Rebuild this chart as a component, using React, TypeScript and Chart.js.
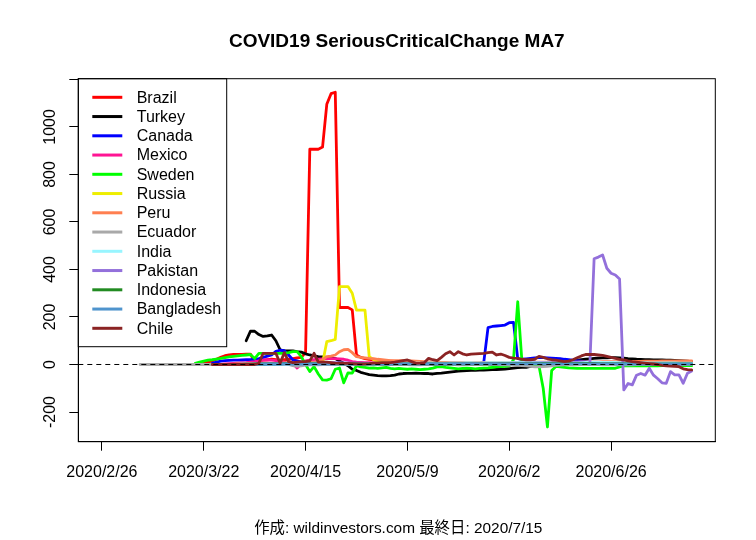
import { useEffect, useRef } from "react";
import { Chart, registerables } from "chart.js";

Chart.register(...registerables);

// ---------- data ----------
const titleText = "COVID19 SeriousCriticalChange MA7";
const footerText = "作成: wildinvestors.com 最終日: 2020/7/15";

const dateTickIndex = [0, 24, 48, 72, 96, 120];
const dateTickLabels = ["2020/2/26", "2020/3/22", "2020/4/15", "2020/5/9", "2020/6/2", "2020/6/26"];
const yTickValues = [-200, 0, 200, 400, 600, 800, 1000, 1200];
const yTickLabels = ["-200", "0", "200", "400", "600", "800", "1000", ""];

const countries = [
  "Brazil", "Turkey", "Canada", "Mexico", "Sweden", "Russia", "Peru",
  "Ecuador", "India", "Pakistan", "Indonesia", "Bangladesh", "Chile",
];
const colors = [
  "#FF0000", "#000000", "#0000FF", "#FF1493", "#00FF00", "#EEEE00", "#FF7F50",
  "#A9A9A9", "#98F5FF", "#9370DB", "#228B22", "#4F94CD", "#8B2323",
];

// first day index (0 = 2020/2/26) of each series
const seriesStart = [22, 34, 26, 28, 22, 30, 30, 9, 30, 30, 32, 35, 26];

const brazil = [
  0, 2, 5, 10, 15, 22, 30, 37,
  40, 42, 43, 43, 44, 44, 12, 15, 18, 20,
  22, 20, 18, 20, 22, 25, 28, 30, 50, 906,
  906, 906, 915, 1095, 1140, 1146, 240, 240, 240, 230,
  40, 30, 25, 22, 20, 18, 17, 15, 14, 13,
  12, 12, 11, 10, 10, 9, 9, 8, 8, 8,
  8, 7, 7, 7, 6, 6, 6, 6, 5, 5,
  5, 5, 5, 4, 4, 4, 4, 4, 3, 3,
  3, 3, 3, 3, 3, 3, 2, 2, 2, 2,
  2, 2, 2, 2, 2, 2, 2, 2, 2, 2,
  2, 2, 1, 1, 1, 1, 1, 1, 1, 1,
  1, 1, 1, 1, 1, 1, 0, 0, 0, 0,
];
const turkey = [
  100, 140, 140, 126, 118, 120,
  124, 100, 62, 57, 57, 57, 54, 52, 45, 40,
  36, 33, 32, 30, 28, 25, 15, 5, -5, -20,
  -25, -33, -38, -43, -45, -47, -48, -48, -47, -45,
  -40, -38, -37, -37, -36, -37, -38, -38, -40, -37,
  -36, -34, -32, -30, -28, -27, -26, -25, -25, -24,
  -24, -23, -22, -21, -20, -19, -17, -15, -13, -12,
  -12, -8, -5, -2, 0, 2, 3, 5, 8, 10,
  12, 15, 18, 20, 22, 24, 26, 27, 28, 28,
  29, 29, 28, 27, 25, 24, 22, 21, 20, 20,
  19, 19, 19, 18, 18, 17, 16, 15, 14, 12,
];
const canada = [
  5, 10, 14, 16,
  17, 18, 18, 19, 20, 20, 22, 25, 30, 35,
  40, 55, 60, 58, 40, 20, 15, 10, 8, 8,
  7, 7, 6, 6, 6, 5, 5, 5, 5, 4,
  4, 4, 3, 3, 3, 2, 2, 2, 2, 1,
  1, 1, 1, 0, 0, 0, 0, 1, 1, 1,
  1, 1, 2, 2, 2, 2, 3, 3, 3, 5,
  10, 155, 160, 162, 164, 166, 176, 177, 25, 22,
  24, 26, 28, 29, 29, 28, 27, 26, 25, 22,
  20, 18, 16, 14, 12, 10, 9, 8, 8, 7,
  7, 6, 6, 5, 5, 5, 4, 4, 4, 3,
  3, 3, 3, 2, 2, 2, 2, 1, 1, 1,
];
const mexico = [
  0, 2,
  4, 5, 6, 7, 8, 10, 12, 15, 18, 20,
  18, 16, 14, 10, 5, 5, -15, 5, 15, 18,
  20, 22, 24, 25, 25, 25, 24, 22, 18, 12,
  10, 9, 8, 8, 7, 7, 6, 6, 6, 5,
  5, 5, 5, 5, 4, 4, 4, 4, 4, 4,
  4, 4, 4, 3, 3, 3, 3, 3, 3, 3,
  3, 3, 3, 3, 3, 4, 4, 4, 5, 5,
  5, 6, 6, 6, 6, 5, 5, 5, 4, 4,
  4, 4, 4, 4, 4, 4, 4, 3, 3, 3,
  3, 3, 3, 3, 3, 3, 3, 2, 2, 2,
  2, 2, 2, 2, 2, 2, 2, 2, 2, 2,
];
const sweden = [
  5, 10, 14, 18, 20, 23, 26, 29,
  32, 34, 36, 38, 40, 42, 25, 47, 47, 47,
  47, 47, 47, 47, 50, 54, 54, 33, 0, -30,
  -9, -40, -65, -66, -60, -20, -15, -77, -35, -36,
  -5, -10, -12, -15, -14, -16, -14, -12, -16, -18,
  -16, -18, -20, -18, -20, -22, -20, -18, -15, -10,
  -9, -12, -14, -16, -18, -16, -15, -16, -18, -16,
  -15, -14, -12, -10, -9, -8, -6, 20, 264, 10,
  -2, -4, -5, -5, -100, -263, -25, -8, -10, -12,
  -14, -15, -16, -16, -16, -16, -16, -16, -16, -16,
  -16, -16, -10, -6, -6, -6, -6, -6, -6, -6,
  -6, -6, -5, -5, -5, -5, -5, -5, -5, -5,
];
const russia = [
  0, 0, 1, 1, 2, 2, 3, 3, 4, 4,
  5, 5, 5, 6, 6, 6, 6, 6, 5, 5,
  5, 5, 5, 96, 100, 106, 328, 328, 328, 300,
  229, 229, 229, 33, 20, 15, 12, 10, 9, 8,
  8, 7, 7, 6, 6, 6, 5, 5, 5, 5,
  5, 5, 4, 4, 4, 4, 4, 4, 4, 4,
  4, 4, 4, 4, 3, 3, 3, 3, 3, 3,
  3, 3, 3, 3, 3, 3, 3, 3, 3, 3,
  3, 3, 2, 2, 2, 2, 2, 2, 2, 2,
  2, 2, 2, 2, 2, 2, 2, 2, 2, 2,
  2, 2, 2, 2, 2, 2, 2, 2, 2, 2,
];
const peru = [
  0, 1, 2, 2, 3, 3, 4, 4, 5, 5,
  4, 4, 5, 5, 6, 6, 7, 8, 8, 9,
  10, 12, 20, 33, 35, 40, 54, 62, 64, 50,
  33, 30, 28, 26, 25, 22, 20, 18, 16, 16,
  16, 16, 15, 15, 14, 13, 12, 11, 10, 10,
  9, 9, 8, 8, 8, 8, 8, 8, 8, 8,
  8, 8, 8, 8, 8, 8, 8, 8, 9, 9,
  10, 10, 10, 10, 10, 10, 10, 10, 10, 10,
  10, 10, 10, 11, 11, 11, 11, 11, 12, 12,
  12, 12, 12, 12, 12, 13, 13, 13, 14, 14,
  14, 14, 15, 15, 15, 15, 15, 15, 15, 15,
];
const ecuador = [
  0, 0, 0, 0, 0, 0, 0, 0, 0, 0, 0,
  0, 0, 0, 0, 0, 0, 0, 0, 0, 0,
  0, 0, 0, 0, 0, 0, 2, 3, 4, 5,
  5, 4, 3, 2, 0, -5, -8, -6, -3, -2,
  -2, -1, 0, 0, 0, 1, 1, 0, 0, 0,
  0, 0, -1, -1, 0, 0, 0, 1, 1, 0,
  0, 0, 0, -1, -1, -1, 0, 0, 0, 0,
  0, 0, 0, 0, -1, -1, 0, 0, 0, 0,
  0, 0, 0, 0, -1, -2, -3, -3, -4, -5,
  -6, -8, -10, -10, -9, -8, -6, -4, -3, -2,
  -2, -1, -1, 0, 0, 0, 0, 0, -1, -1,
  -1, -2, -2, -2, -1, -1, 0, 0, 0, 0,
  0, 0, 0, 0, -1, -1, -1, 0, 0, 0,
];
const india = [
  0, 0, 0, 1, 1, 1, 1, 2, 2, 2,
  2, 3, 3, 3, 3, 4, 4, 4, 4, 5,
  5, 5, 5, 6, 6, 5, 5, 5, 5, 5,
  4, 4, 5, 5, 5, 5, 6, 6, 6, 6,
  5, 5, 6, 6, 6, 6, 6, 7, 7, 6,
  6, 6, 7, 7, 7, 7, 8, 8, 7, 7,
  7, 8, 8, 8, 8, 8, 8, 8, 9, 9,
  9, 9, 9, 9, 8, 8, 8, 8, 9, 9,
  9, 9, 9, 9, 9, 10, 10, 10, 9, 9,
  9, 9, 8, 8, 8, 8, 8, 8, 8, 7,
  7, 7, 7, 7, 7, 7, 6, 6, 6, 6,
];
const pakistan = [
  0, 0, 0, 1, 1, 1, 2, 2, 3, 3,
  4, 4, 5, 5, 5, 6, 6, 5, 5, 5,
  6, 6, 7, 7, 8, 8, 8, 7, 7, 6,
  6, 6, 5, 5, 5, 5, 4, 4, 4, 4,
  4, 3, 3, 3, 3, 3, 3, 3, 3, 3,
  3, 3, 3, 3, 4, 4, 4, 4, 4, 4,
  4, 5, 5, 5, 5, 5, 5, 6, 6, 6,
  6, 6, 7, 7, 7, 7, 7, 8, 8, 8,
  8, 8, 8, 7, 5, 2, 445, 452, 461, 405,
  384, 377, 360, -107, -80, -86, -45, -38, -45, -16,
  -45, -60, -77, -79, -30, -44, -44, -79, -37, -27,
];
const indonesia = [
  0, 0, 1, 1, 2, 2, 2, 3,
  3, 3, 3, 4, 4, 4, 4, 4, 4, 4,
  4, 4, 4, 4, 4, 3, 3, 3, 3, 3,
  3, 3, 3, 3, 3, 3, 3, 3, 3, 3,
  3, 3, 3, 3, 3, 3, 3, 3, 2, 2,
  2, 2, 2, 3, 3, 3, 3, 3, 3, 3,
  3, 3, 3, 3, 4, 4, 4, 4, 4, 4,
  4, 4, 4, 4, 5, 5, 5, 5, 5, 5,
  5, 5, 5, 5, 5, 5, 5, 4, 4, 4,
  4, 4, 4, 4, 4, 4, 4, 3, 3, 3,
  3, 3, 3, 3, 3, 3, 3, 3, 3, 3,
];
const bangladesh = [
  0, 0, 1, 1, 1,
  1, 1, 1, 2, 2, 2, 2, 2, 2, 2,
  2, 2, 2, 2, 2, 2, 2, 2, 2, 2,
  2, 2, 2, 2, 2, 2, 2, 2, 2, 3,
  3, 3, 3, 3, 3, 3, 3, 3, 3, 3,
  3, 3, 3, 3, 3, 3, 3, 3, 3, 3,
  3, 3, 3, 3, 3, 3, 3, 3, 3, 3,
  3, 3, 3, 3, 3, 3, 3, 3, 3, 3,
  3, 3, 3, 3, 3, 3, 3, 3, 3, 3,
  3, 3, 2, 2, 2, 2, 2, 2, 2, 2,
  2, 2, 2, 2, 2, 2, 2, 2, 2, 2,
];
const chile = [
  0, 0, 0, 0,
  0, 0, 0, 0, 0, 0, 0, 5, 47, 47,
  47, 47, 5, 50, 12, 8, 10, 12, 12, 15,
  47, 10, 10, 10, 8, 6, 5, 5, 5, 4,
  3, 2, 3, 4, 6, 7, 8, 8, 8, 10,
  13, 16, 19, 12, 5, 6, 8, 26, 20, 16,
  30, 45, 54, 40, 54, 45, 40, 44, 45, 46,
  47, 50, 52, 40, 44, 38, 30, 27, 26, 22,
  20, 20, 22, 34, 30, 24, 20, 18, 15, 12,
  14, 20, 28, 36, 42, 43, 42, 40, 38, 34,
  30, 26, 22, 19, 15, 12, 10, 8, 6, 4,
  2, 0, -4, -6, -7, -8, -9, -18, -22, -23,
];

const seriesValues = [
  brazil, turkey, canada, mexico, sweden, russia, peru,
  ecuador, india, pakistan, indonesia, bangladesh, chile,
];

// ---------- layout ----------
const W = 756;
const H = 540;
const AREA = { left: 78.3, top: 78.7, right: 715.3, bottom: 441.7 };
const FONT = '"Liberation Sans", Arial, "Noto Sans CJK JP", sans-serif';

const decorPlugin = {
  id: "decor",
  afterDatasetsDraw(chart: any) {
    const { ctx, chartArea, scales } = chart;
    const y0 = scales.y.getPixelForValue(0);
    ctx.save();
    ctx.beginPath();
    ctx.rect(chartArea.left, chartArea.top, chartArea.right - chartArea.left, chartArea.bottom - chartArea.top);
    ctx.clip();
    ctx.strokeStyle = "#000";
    ctx.lineWidth = 1;
    ctx.setLineDash([5, 4]);
    ctx.beginPath();
    ctx.moveTo(chartArea.left, y0);
    ctx.lineTo(chartArea.right, y0);
    ctx.stroke();
    ctx.restore();

    // legend
    ctx.save();
    const lx = chartArea.left;
    const ly = chartArea.top;
    const lw = 148.4;
    const lh = 268;
    ctx.fillStyle = "#fff";
    ctx.fillRect(lx, ly, lw, lh);
    ctx.strokeStyle = "#000";
    ctx.lineWidth = 1;
    ctx.strokeRect(lx, ly, lw, lh);
    ctx.font = "16px " + FONT;
    ctx.textAlign = "left";
    ctx.textBaseline = "middle";
    chart.data.datasets.forEach((ds: any, i: number) => {
      const ry = ly + 18.6 + i * 19.25;
      ctx.strokeStyle = ds.borderColor;
      ctx.lineWidth = 3;
      ctx.lineCap = "butt";
      ctx.beginPath();
      ctx.moveTo(lx + 14, ry);
      ctx.lineTo(lx + 44, ry);
      ctx.stroke();
      ctx.fillStyle = "#000";
      ctx.fillText(ds.label, lx + 58.4, ry + 1);
    });
    ctx.restore();
  },
  afterDraw(chart: any) {
    const { ctx, chartArea } = chart;
    ctx.save();
    ctx.strokeStyle = "#000";
    ctx.lineWidth = 1;
    ctx.strokeRect(chartArea.left, chartArea.top, chartArea.right - chartArea.left, chartArea.bottom - chartArea.top);
    const cx = (chartArea.left + chartArea.right) / 2;
    ctx.fillStyle = "#000";
    ctx.textAlign = "center";
    ctx.textBaseline = "alphabetic";
    ctx.font = "bold 19px " + FONT;
    ctx.fillText(titleText, cx, 46.5);
    ctx.font = "15.4px " + FONT;
    ctx.fillText(footerText, cx + 1.5, 533.3);
    ctx.restore();
  },
};

export default function App() {
  const canvasRef = useRef<HTMLCanvasElement | null>(null);

  useEffect(() => {
    const canvas = canvasRef.current;
    if (!canvas) return;
    const datasets = countries.map((name, i) => ({
      label: name,
      data: seriesValues[i].map((v, k) => ({ x: seriesStart[i] + k, y: v })),
      borderColor: colors[i],
      backgroundColor: colors[i],
      borderWidth: 2.8,
      pointRadius: 0,
      pointHoverRadius: 0,
      tension: 0,
      fill: false,
      borderCapStyle: "round" as const,
      borderJoinStyle: "round" as const,
      order: countries.length - i,
    }));

    const chart = new Chart(canvas, {
      type: "line",
      data: { datasets },
      options: {
        animation: false,
        responsive: false,
        devicePixelRatio: 1,
        events: [],
        layout: {
          padding: { left: 0, top: AREA.top, right: W - AREA.right, bottom: 0 },
        },
        plugins: {
          legend: { display: false },
          title: { display: false },
          tooltip: { enabled: false },
        },
        scales: {
          x: {
            type: "linear",
            position: "bottom",
            min: -5.56,
            max: 144.56,
            afterBuildTicks: (scale: any) => {
              scale.ticks = dateTickIndex.map((v) => ({ value: v }));
            },
            afterFit: (scale: any) => {
              scale.height = H - AREA.bottom;
            },
            grid: {
              display: true,
              drawOnChartArea: false,
              drawTicks: true,
              tickLength: 9,
              color: "#000",
              lineWidth: 1,
            },
            border: { display: true, color: "#000", width: 1 },
            ticks: {
              autoSkip: false,
              maxRotation: 0,
              minRotation: 0,
              padding: 12,
              color: "#000",
              font: { family: FONT, size: 16 },
              callback: (value: any) => {
                const k = dateTickIndex.indexOf(Number(value));
                return k >= 0 ? dateTickLabels[k] : "";
              },
            },
          },
          y: {
            type: "linear",
            position: "left",
            min: -325,
            max: 1203,
            afterBuildTicks: (scale: any) => {
              scale.ticks = yTickValues.map((v) => ({ value: v }));
            },
            afterFit: (scale: any) => {
              scale.width = AREA.left;
            },
            grid: {
              display: true,
              drawOnChartArea: false,
              drawTicks: true,
              tickLength: 9,
              color: "#000",
              lineWidth: 1,
            },
            border: { display: true, color: "#000", width: 1 },
            ticks: {
              autoSkip: false,
              minRotation: 90,
              maxRotation: 90,
              crossAlign: "center",
              padding: 1,
              color: "#000",
              font: { family: FONT, size: 16 },
              callback: (value: any) => {
                const k = yTickValues.indexOf(Number(value));
                return k >= 0 ? yTickLabels[k] : "";
              },
            },
          },
        },
      },
      plugins: [decorPlugin],
    });

    return () => {
      chart.destroy();
    };
  }, []);

  return (
    <div style={{ position: "absolute", left: 0, top: 0, width: W, height: H, background: "#fff" }}>
      <canvas ref={canvasRef} width={W} height={H} style={{ width: W, height: H, display: "block" }} />
    </div>
  );
}
